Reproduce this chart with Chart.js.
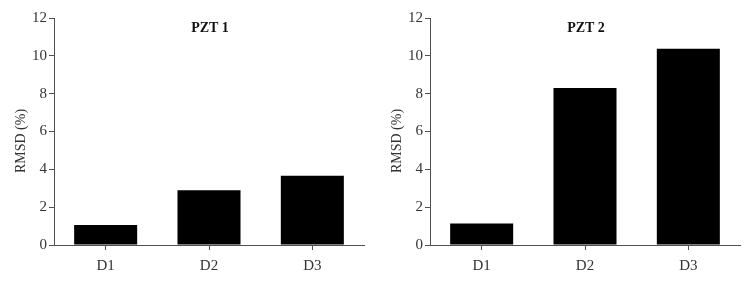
<!DOCTYPE html>
<html>
<head>
<meta charset="utf-8">
<script src="https://cdn.jsdelivr.net/npm/chart.js@4"></script>
<style>
  html, body { margin: 0; padding: 0; background: #fff; }
  #wrap { position: relative; width: 752px; height: 286px; }
  canvas { position: absolute; top: 0; }
</style>
</head>
<body>
<div id="wrap">
  <canvas id="c1" width="376" height="286" style="left:0"></canvas>
  <canvas id="c2" width="376" height="286" style="left:376px"></canvas>
</div>
<script>
const categories = ['D1', 'D2', 'D3'];
const pzt1Values = [1.06, 2.9, 3.66];
const pzt2Values = [1.13, 8.3, 10.38];
const yTicks = [0, 2, 4, 6, 8, 10, 12];
const titles = ['PZT 1', 'PZT 2'];
const yTitle = 'RMSD (%)';

const FONT = "'Liberation Serif', 'Times New Roman', serif";
const AXIS = '#505050';
const TXT = '#333333';

const textPlugin = {
  id: 'textPlugin',
  afterDraw(chart, args, opts) {
    const ctx = chart.ctx;
    const a = chart.chartArea;
    ctx.save();
    ctx.fillStyle = '#111';
    ctx.font = 'bold 14px ' + FONT;
    ctx.textAlign = 'center';
    ctx.textBaseline = 'middle';
    ctx.fillText(opts.title, (a.left + a.right) / 2 + 1, 28);
    ctx.fillStyle = TXT;
    ctx.font = '14px ' + FONT;
    ctx.translate(21, 141);
    ctx.rotate(-Math.PI / 2);
    ctx.fillText(yTitle, 0, 0);
    ctx.restore();
  }
};

function makeChart(id, values, title) {
  return new Chart(document.getElementById(id), {
    type: 'bar',
    data: {
      labels: categories,
      datasets: [{
        data: values,
        backgroundColor: '#000',
        borderWidth: 0,
        barPercentage: 0.61,
        categoryPercentage: 1.0
      }]
    },
    plugins: [textPlugin],
    options: {
      responsive: false,
      animation: false,
      devicePixelRatio: 1,
      layout: { padding: { left: 1, top: 18, right: 12, bottom: 0 } },
      plugins: {
        legend: { display: false },
        tooltip: { enabled: false },
        textPlugin: { title: title }
      },
      scales: {
        x: {
          grid: { display: true, offset: false, drawOnChartArea: false, drawTicks: true, tickLength: 5, color: AXIS, lineWidth: 1 },
          border: { display: true, color: AXIS, width: 1 },
          ticks: { color: TXT, font: { family: FONT, size: 15 }, padding: 7 },
          afterFit(s) { s.height = 41; }
        },
        y: {
          min: 0, max: 12,
          afterBuildTicks(s) { s.ticks = yTicks.map(v => ({ value: v })); },
          grid: { display: true, drawOnChartArea: false, drawTicks: true, tickLength: 5, color: AXIS, lineWidth: 1 },
          border: { display: true, color: AXIS, width: 1 },
          ticks: { color: TXT, font: { family: FONT, size: 15 }, padding: 2 },
          afterFit(s) { s.width = 53; }
        }
      }
    }
  });
}

makeChart('c1', pzt1Values, titles[0]);
makeChart('c2', pzt2Values, titles[1]);
</script>
</body>
</html>
